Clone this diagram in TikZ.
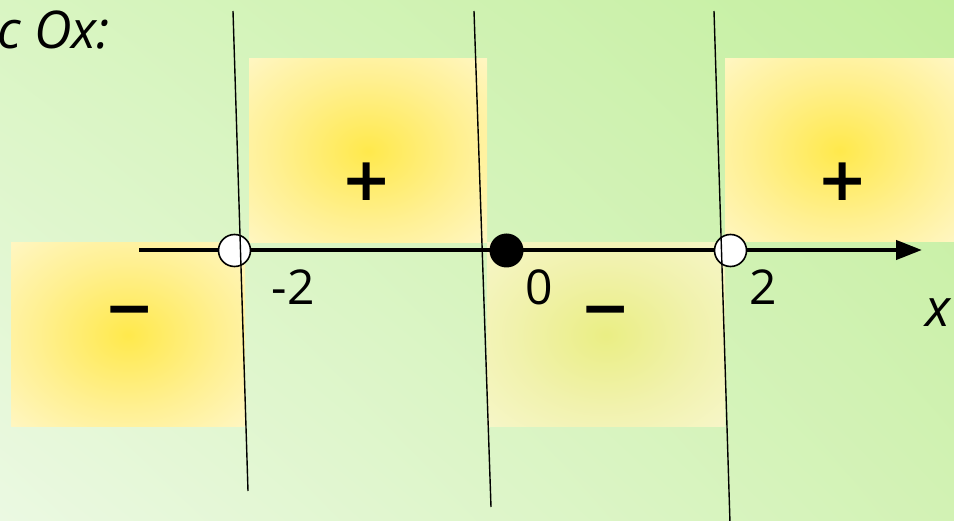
\documentclass[tikz,border=0pt]{standalone}
\usepackage{fontspec}
\setmainfont{Open Sans}
\newfontfamily\signfont{DejaVu Sans}
\usetikzlibrary{arrows.meta,shadings}
\definecolor{bgUL}{HTML}{D9F5C2}
\definecolor{bgUR}{HTML}{C4EF9F}
\definecolor{bgLL}{HTML}{EBF9E2}
\definecolor{bgLR}{HTML}{D2F2B4}
\definecolor{ginA}{HTML}{FFE94C}
\definecolor{gmidA}{HTML}{FFF092}
\definecolor{goutA}{HTML}{FFF8D0}
\definecolor{gedgeA}{HTML}{FFFCEA}
\definecolor{ginB}{HTML}{EAEE84}
\definecolor{gmidB}{HTML}{F1F2AE}
\definecolor{goutB}{HTML}{F8F7D0}
\definecolor{gedgeB}{HTML}{FBF9DE}
\pgfdeclareradialshading{glowA}{\pgfpoint{0bp}{0bp}}{color(0bp)=(ginA); color(20bp)=(gmidA); color(40bp)=(goutA); color(52bp)=(gedgeA); color(72bp)=(gedgeA)}
\pgfdeclareradialshading{glowB}{\pgfpoint{0bp}{0bp}}{color(0bp)=(ginB); color(20bp)=(gmidB); color(40bp)=(goutB); color(52bp)=(gedgeB); color(72bp)=(gedgeB)}
\begin{document}
\begin{tikzpicture}[x=1pt,y=-1pt,
  boxA/.style={shading=glowA},
  boxB/.style={shading=glowB},
  signlbl/.style={font=\signfont\bfseries\fontsize{60}{64}\selectfont, inner sep=0pt},
  numlbl/.style={font=\fontsize{48}{52}\selectfont, inner sep=0pt},
  opendot/.style={circle, draw=black, line width=1.6pt, fill=white, minimum size=32pt, inner sep=0pt},
  fulldot/.style={circle, fill=black, minimum size=34pt, inner sep=0pt},
  axisline/.style={line width=4.2pt, -{Triangle[length=26pt,width=19pt]}},
  sepline/.style={line width=1.4pt}]
\useasboundingbox (0,0) rectangle (954,521);
\shade[upper left=bgUL, upper right=bgUR, lower left=bgLL, lower right=bgLR] (0,0) rectangle (954,521);
% sign boxes
\shade[boxA] (11,243) rectangle (245,427);
\shade[boxA] (249,59) rectangle (487,243);
\shade[boxB] (487,243) rectangle (725,427);
\shade[boxA] (725,59) rectangle (954,242);
% signs
\node[signlbl] (s1) at (130,317) {−};
\node[signlbl] (s2) at (367,182) {+};
\node[signlbl] (s3) at (606,317) {−};
\node[signlbl] (s4) at (843,182) {+};
% axis
\coordinate (axL) at (139,250);
\coordinate (axR) at (922,250);
\draw[axisline] (axL) -- (axR);
\node[opendot] (pm2) at (234.5,250.5) {};
\node[fulldot] (p0) at (506.5,250.5) {};
\node[opendot] (pp2) at (730.5,250.5) {};
% separator lines
\coordinate (a1) at (233,11);  \coordinate (b1) at (248,491);
\coordinate (a2) at (474,11);  \coordinate (b2) at (491,507);
\coordinate (a3) at (714,11);  \coordinate (b3) at (730,523);
\draw[sepline] (a1) -- (b1);
\draw[sepline] (a2) -- (b2);
\draw[sepline] (a3) -- (b3);
% labels
\node[numlbl] (lm2) at (293,287) {-2};
\node[numlbl] (l0) at (539,287) {0};
\node[numlbl] (lp2) at (763,287) {2};
\node[numlbl, anchor=base west, font=\itshape\fontsize{52}{56}\selectfont] (lx) at (925,327) {x};
\node[numlbl, anchor=base east, font=\itshape\fontsize{52}{56}\selectfont] (title) at (110,49) {c Ox:};
\end{tikzpicture}
\end{document}
